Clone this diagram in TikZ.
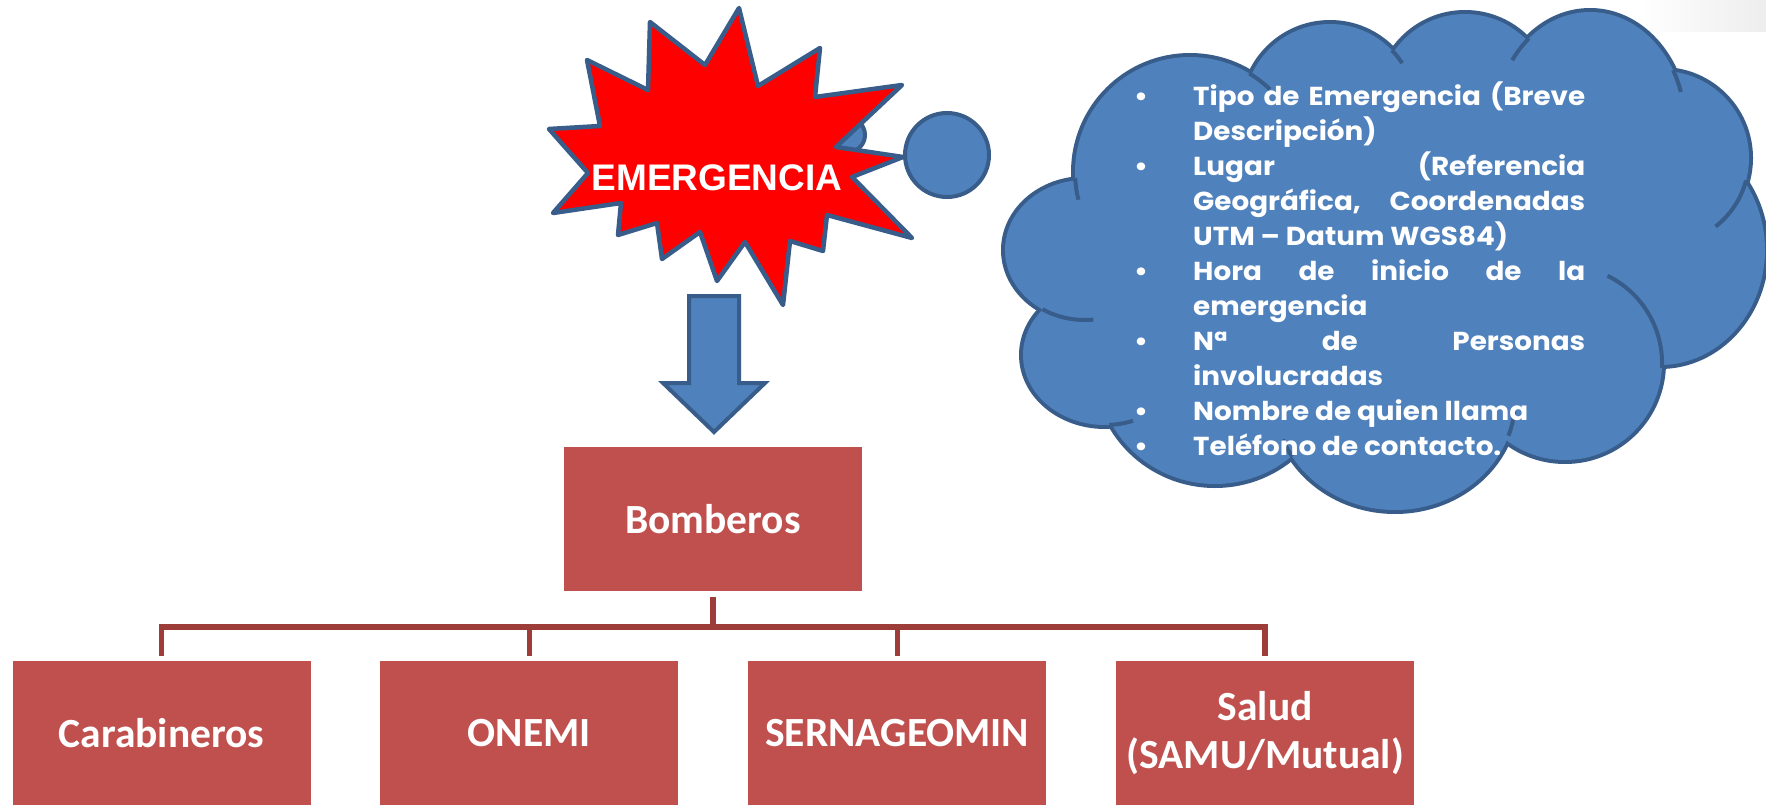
\documentclass[tikz,border=0pt]{standalone}
\usepackage{fontspec}
\usepackage{enumitem}
\usetikzlibrary{positioning,calc}
\newfontfamily\boxfont{Carlito}
\newfontfamily\burstfont{Liberation Sans}
\newfontfamily\cloudfont{Poppins}[FakeStretch=1.07]
\definecolor{burstred}{HTML}{FF0000}
\definecolor{skyfill}{HTML}{4F81BD}
\definecolor{skyline}{HTML}{385D8A}
\definecolor{boxred}{HTML}{C0504D}
\definecolor{linkred}{HTML}{9C3D3A}

\begin{document}
\begin{tikzpicture}[x=1pt, y=-1pt, node distance=69.5pt,
    orgbox/.style={rectangle, fill=boxred, text=white, minimum width=298pt, minimum height=144pt,
      inner sep=0pt, align=center, font=\boxfont\bfseries\fontsize{41.5}{48}\selectfont},
    link/.style={draw=linkred, line width=5.5pt},
    blueshape/.style={fill=skyfill, draw=skyline, line width=4pt}]
    \useasboundingbox (0,0) rectangle (1766,805);
    \fill[white] (0,0) rectangle (1766,805);
    \shade[left color=white, right color=black!7] (1640,0) rectangle (1766,32);

    % cloud: outline of the puffs, then their fill, then the inner arcs
    \foreach \cx/\cy/\rx/\ry in {1190/172/115/115, 1330/110/86/86, 1465/100/86/86, 1590/125/95/113,
        1662/158/87/87, 1660/250/105/115, 1565/363/97/97, 1395/400/120/110, 1215/368/118/116,
        1105/355/82/70, 1085/250/80/70}
      \draw[fill=skyfill, draw=skyline, line width=8pt] (\cx,\cy) ellipse [x radius=\rx, y radius=\ry];
    \foreach \cx/\cy/\rx/\ry in {1190/172/115/115, 1330/110/86/86, 1465/100/86/86, 1590/125/95/113,
        1662/158/87/87, 1660/250/105/115, 1565/363/97/97, 1395/400/120/110, 1215/368/118/116,
        1105/355/82/70, 1085/250/80/70, 1385/265/300/185}
      \fill[skyfill] (\cx,\cy) ellipse [x radius=\rx, y radius=\ry];
    \foreach \cx/\cy/\rx/\ry/\a/\b in {1190/172/115/115/177/166, 1190/172/115/115/-59/-46,
        1330/110/86/86/-44/-33, 1590/125/95/113/-130/-145, 1590/125/95/113/-29/-17,
        1662/158/87/87/15/52, 1565/363/97/97/3/-64, 1395/400/120/110/149/159,
        1395/400/120/110/19/6, 1105/355/82/70/87/70, 1085/250/80/70/122/84}
      \draw[skyline, line width=4pt] (\cx,\cy) ++(\a:{\rx} and {\ry})
        arc[start angle=\a, end angle=\b, x radius=\rx, y radius=\ry];

    \node[text=white, text width=451pt, inner sep=0pt, anchor=north west, align=justify,
      font=\cloudfont\bfseries\fontsize{26}{35}\selectfont] (info) at (1134,70) {%
      \begin{itemize}[leftmargin=59pt, labelwidth=59pt, labelsep=0pt, align=left, nosep, label=\textbullet]
        \item Tipo de Emergencia (Breve\linebreak Descripción)
        \item Lugar (Referencia\linebreak Geográfica, Coordenadas\linebreak UTM – Datum WGS84)
        \item Hora de inicio de la\linebreak emergencia
        \item Nª de Personas\linebreak involucradas
        \item Nombre de quien llama
        \item Teléfono de contacto.
      \end{itemize}};

    % thought bubbles and the burst
    \node[circle, blueshape, minimum size=34pt, inner sep=0pt] (bubs) at (848,135) {};
    \draw[fill=burstred, draw=skyline, line width=4.5pt, line join=round]
      (739,8) -- (758,86) -- (820,48) -- (815,97) -- (902,85) -- (836,147) -- (903,157)
      -- (852,177) -- (912,238) -- (827,215) -- (823,251) -- (790,241) -- (783,305)
      -- (745,242) -- (717,281) -- (700,232) -- (662,259) -- (657,223) -- (618,235)
      -- (621,203) -- (553,213) -- (588,173) -- (549,129) -- (600,126) -- (587,60)
      -- (648,90) -- (650,22) -- (705,65) -- cycle;
    \node[text=white, font=\burstfont\bfseries\fontsize{37}{40}\selectfont] (emerg) at (717,178) {EMERGENCIA};
    \node[circle, blueshape, minimum size=84pt, inner sep=0pt] (bubb) at (947,155) {};

    % block arrow
    \draw[blueshape, line join=miter] (689,296) -- (739,296) -- (739,383) -- (765,383)
      -- (714,432) -- (663,383) -- (689,383) -- cycle;

    % org chart
    \node[orgbox] (bomb) at (713,519) {Bomberos};
    \node[orgbox] (carab) at (161.5,733) {Carabineros};
    \node[orgbox, right=of carab] (onemi) {ONEMI};
    \node[orgbox, right=of onemi] (serna) {SERNAGEOMIN};
    \node[orgbox, right=of serna] (salud) {Salud\\(SAMU/Mutual)};
    \coordinate (bar) at (713,627);
    \draw[link] ([yshift=-5.5pt]bomb.south) -- (bomb.south |- bar);
    \draw[link] ([yshift=5pt]carab.north) -- (carab.north |- bar) -- (salud.north |- bar)
      -- ([yshift=5pt]salud.north);
    \foreach \n in {onemi,serna}
      \draw[link] (\n.north |- bar) -- ([yshift=5pt]\n.north);
\end{tikzpicture}
\end{document}
